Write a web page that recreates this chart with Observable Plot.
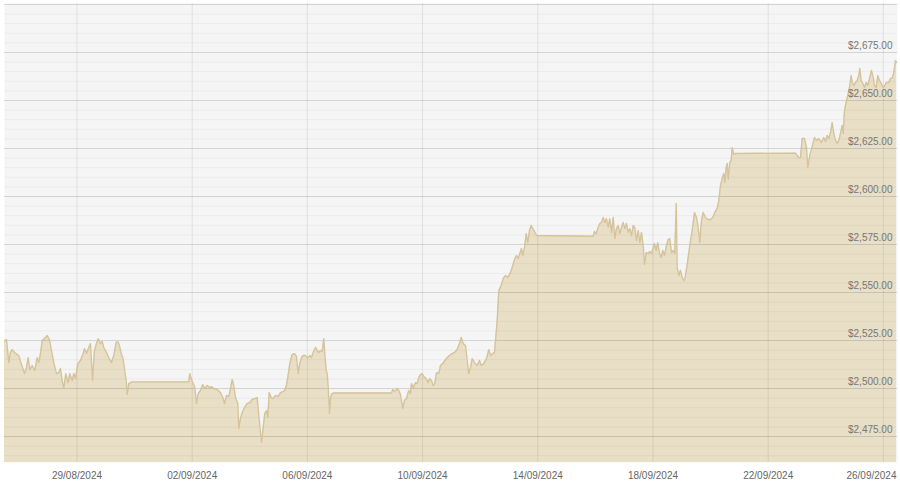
<!DOCTYPE html>
<html>
<head>
<meta charset="utf-8">
<script src="https://cdn.jsdelivr.net/npm/d3@7"></script>
<script src="https://cdn.jsdelivr.net/npm/@observablehq/plot@0.6"></script>
<style>
  html, body { margin: 0; padding: 0; background: #ffffff; }
  #chart svg { display: block; }
</style>
</head>
<body>
<div id="chart"></div>
<script>
// Gold price (USD), timestamps (UTC, 2024)
const times = [
  "08-26T11:36","08-26T13:15","08-26T15:10","08-26T16:35","08-26T18:00","08-26T19:55","08-26T23:30",
  "08-27T01:30","08-27T04:15","08-27T05:55","08-27T07:20","08-27T08:40","08-27T10:40","08-27T12:50","08-27T14:50","08-27T16:10","08-27T17:35","08-27T19:00","08-27T20:55","08-27T23:10",
  "08-28T01:05","08-28T02:45","08-28T04:40","08-28T06:55","08-28T08:50","08-28T10:15","08-28T11:40","08-28T13:00","08-28T14:40","08-28T16:40","08-28T18:00","08-28T20:00","08-28T21:20","08-28T22:45",
  "08-29T00:40","08-29T02:55","08-29T05:10","08-29T06:15","08-29T07:55","08-29T09:50","08-29T11:15","08-29T12:55","08-29T14:35","08-29T16:15","08-29T17:40","08-29T19:35","08-29T21:00","08-29T22:20",
  "08-30T00:35","08-30T02:30","08-30T04:45","08-30T06:40","08-30T08:40","08-30T10:00","08-30T11:25","08-30T12:50","08-30T14:10","08-30T15:50","08-30T17:00","08-30T17:50","08-30T19:10","08-30T22:00",
  "09-01T21:10","09-01T22:00","09-01T23:10",
  "09-02T00:30","09-02T02:10","09-02T03:35","09-02T05:00","09-02T06:55","09-02T08:50","09-02T10:30","09-02T12:30","09-02T14:25","09-02T16:05","09-02T18:00","09-02T20:50","09-02T23:35",
  "09-03T01:50","09-03T02:55","09-03T04:35","09-03T06:30","09-03T07:55","09-03T09:20","09-03T10:40","09-03T12:05","09-03T14:00","09-03T14:50","09-03T16:15","09-03T17:40","09-03T19:35","09-03T21:50",
  "09-04T00:00","09-04T02:00","09-04T04:10","09-04T06:10","09-04T07:30","09-04T08:55","09-04T09:45","09-04T11:10","09-04T12:30","09-04T13:55","09-04T15:00","09-04T16:10","09-04T17:50","09-04T19:30","09-04T21:25","09-04T23:40",
  "09-05T01:35","09-05T03:40","09-05T04:55","09-05T06:35","09-05T07:40","09-05T09:20","09-05T11:20","09-05T13:15","09-05T14:55","09-05T16:20","09-05T17:40","09-05T19:05","09-05T20:30","09-05T22:25",
  "09-06T00:20","09-06T02:00","09-06T03:25","09-06T04:50","09-06T06:45","09-06T08:10","09-06T09:30","09-06T10:55","09-06T12:20","09-06T13:40","09-06T14:30","09-06T15:40","09-06T16:30","09-06T17:20","09-06T18:25","09-06T19:15","09-06T20:40","09-06T22:00",
  "09-08T22:05","09-08T23:10",
  "09-09T00:50","09-09T02:50","09-09T04:10","09-09T05:35","09-09T07:30","09-09T08:55","09-09T10:35","09-09T12:30","09-09T13:55","09-09T14:45","09-09T16:10","09-09T18:05","09-09T19:30","09-09T20:50","09-09T22:15","09-09T23:40",
  "09-10T01:00","09-10T03:00","09-10T04:40","09-10T06:00","09-10T07:25","09-10T08:50","09-10T10:10","09-10T11:35","09-10T13:30","09-10T14:55","09-10T16:50","09-10T18:30","09-10T20:30","09-10T22:25",
  "09-11T00:40","09-11T02:35","09-11T04:50","09-11T06:45","09-11T08:10","09-11T09:50","09-11T11:45","09-11T13:10","09-11T14:30","09-11T15:55","09-11T17:20","09-11T19:15","09-11T21:30","09-11T23:25",
  "09-12T00:50","09-12T03:00","09-12T05:15","09-12T07:10","09-12T08:35","09-12T10:30","09-12T11:55","09-12T12:45","09-12T14:10","09-12T15:30","09-12T17:30","09-12T19:10","09-12T21:05","09-12T23:00",
  "09-13T01:15","09-13T03:10","09-13T04:50","09-13T06:15","09-13T07:40","09-13T09:00","09-13T10:25","09-13T11:30","09-13T12:55","09-13T14:20","09-13T15:40","09-13T17:05","09-13T18:30","09-13T19:50","09-13T21:15","09-13T22:55",
  "09-15T22:10","09-15T23:15",
  "09-16T00:40","09-16T02:00","09-16T03:40","09-16T05:05","09-16T06:30","09-16T07:50","09-16T09:15","09-16T10:40","09-16T12:00","09-16T13:25","09-16T14:50","09-16T16:10","09-16T17:35","09-16T19:00","09-16T20:20","09-16T21:45","09-16T23:10",
  "09-17T00:30","09-17T01:55","09-17T03:20","09-17T04:40","09-17T06:05","09-17T07:30","09-17T08:50","09-17T10:15","09-17T11:40","09-17T13:00","09-17T14:25","09-17T15:50","09-17T16:55","09-17T18:20","09-17T20:00","09-17T21:20","09-17T22:45",
  "09-18T00:10","09-18T01:15","09-18T02:40","09-18T04:00","09-18T05:25","09-18T06:50","09-18T08:10","09-18T09:35","09-18T11:15","09-18T12:40","09-18T14:00","09-18T15:25","09-18T16:50","09-18T18:10","09-18T19:20","09-18T20:10","09-18T21:30","09-18T22:55",
  "09-19T00:20","09-19T01:40","09-19T02:40","09-19T04:30","09-19T06:40","09-19T08:40","09-19T10:35","09-19T12:15","09-19T13:40","09-19T15:00","09-19T16:25","09-19T17:50","09-19T19:45","09-19T21:40","09-19T23:55",
  "09-20T01:50","09-20T03:30","09-20T05:30","09-20T06:50","09-20T08:15","09-20T09:40","09-20T11:00","09-20T11:50","09-20T13:00","09-20T13:50","09-20T14:40","09-20T16:00","09-20T17:10","09-20T18:00","09-20T19:20","09-20T20:45","09-20T22:10",
  "09-22T22:45",
  "09-23T00:10","09-23T01:30","09-23T02:55","09-23T04:20","09-23T06:15","09-23T07:55","09-23T09:00","09-23T10:40","09-23T12:40","09-23T14:35","09-23T16:15","09-23T18:10","09-23T20:10","09-23T22:20","09-23T23:45",
  "09-24T01:10","09-24T02:30","09-24T03:55","09-24T05:20","09-24T06:40","09-24T08:05","09-24T09:30","09-24T10:50","09-24T12:15","09-24T13:40","09-24T14:30","09-24T15:35","09-24T17:15","09-24T18:40","09-24T20:00","09-24T21:10","09-24T22:00","09-24T23:20",
  "09-25T00:45","09-25T02:10","09-25T03:30","09-25T04:20","09-25T05:30","09-25T06:50","09-25T08:15","09-25T09:40","09-25T11:00","09-25T12:40","09-25T14:05","09-25T15:30","09-25T16:35","09-25T18:00","09-25T19:20","09-25T20:45","09-25T22:10","09-25T23:50",
  "09-26T01:10","09-26T02:35","09-26T04:30","09-26T05:55","09-26T07:20","09-26T08:40","09-26T10:05","09-26T10:55"
];
const prices = [
  2525,2525.5,2513.5,2518.8,2520.3,2518.8,2517.2,
  2513,2507.8,2511,2516.1,2509.9,2512,2509.4,2516.1,2513.5,2518.2,2525,2526,2527.6,
  2525.5,2519.8,2513.5,2507.8,2508.3,2510.4,2504.2,2500,2507.8,2503.1,2507.8,2504.2,2507.8,2505.2,
  2513,2514.6,2518.2,2520.8,2518.2,2521.4,2523.4,2504.2,2519.8,2523.4,2526,2523.4,2524.5,2521.4,
  2518.8,2516.1,2513.5,2517.2,2524,2524.5,2522.4,2518.2,2516.1,2509.4,2504.2,2496.9,2502.6,2503.5,
  2503.5,2507.8,2505.2,
  2503.1,2500.5,2492.2,2497.4,2499,2502.1,2500,2501.6,2500.5,2501,2500,2499.5,2497.9,
  2494.8,2492.2,2496.4,2495.8,2500,2504.7,2501.6,2495.3,2492.2,2479.2,2484.4,2487.5,2490.1,2492.2,
  2492.7,2494.3,2494.8,2495.3,2485.9,2477.1,2471.9,2479.7,2487,2488.5,2484.9,2497.9,2495.3,2494.8,2496.4,2495.8,
  2497.9,2498.4,2499,2501.6,2505.7,2513,2517.7,2518.2,2516.7,2507.8,2513,2516.1,2517.2,2517.2,
  2516.1,2517.2,2516.1,2518.8,2521.4,2519.8,2518.8,2519.8,2519.3,2526,2518.2,2509.4,2507.8,2500.5,2487,2495.3,2497.4,2497.7,
  2497.7,2499.5,
  2498.4,2500,2499,2496.9,2489.6,2493.8,2494.8,2499,2497.4,2502.6,2500.5,2503.1,2502.6,2505.7,2507.3,2507.8,
  2506.3,2505.2,2503.1,2505.2,2504.2,2501.6,2502.6,2508.3,2507.8,2512,2513,2514.6,2516.1,2517.2,
  2518.2,2518.8,2520.3,2523.4,2526.6,2523.4,2522.4,2514.6,2507.8,2511,2515.6,2513.5,2512,2514.6,
  2512,2513,2515.6,2520.3,2517.2,2518.2,2518.8,2525,2535.4,2551,2553.6,2557.3,2558.9,2557.8,
  2560.4,2564.1,2567.7,2569.3,2567.7,2570.3,2572.9,2569.3,2573.4,2580.7,2576,2582.3,2584.9,2583.3,2581.8,2579.7,
  2579.3,2581.8,
  2580.7,2583.3,2585.9,2586.5,2589.1,2586.5,2588.5,2583.9,2588.5,2581.3,2589.1,2578.1,2583.3,2584.9,2580.7,2583.9,2586.5,
  2583.3,2585.9,2581.3,2583.3,2579.7,2584.9,2583.9,2577.1,2582.3,2576,2581.3,2574.5,2564.6,2570.8,2570.3,2571.4,2570.3,
  2573.4,2575.5,2571.9,2576,2570.3,2568.2,2571.9,2569.3,2574.5,2577.6,2578.1,2570.8,2571.9,2570.3,2596.4,2563,2558.9,2561.5,
  2557.8,2556.2,2557.3,2564.6,2574.5,2582.3,2591.7,2589.1,2583.9,2576,2587.5,2591.7,2589.1,2588,2588,
  2589.1,2591.7,2593.8,2597.9,2605.7,2609.4,2612,2607.3,2615.1,2617.2,2608.9,2617.7,2618.8,2625.5,2621.9,2622.4,2622.4,
  2622.6,
  2621.4,2620.3,2620.3,2630.2,2630.2,2625.5,2615.1,2621.4,2626,2630.7,2629.2,2630.2,2628.1,2630.7,2628.6,
  2631.8,2630.2,2633.3,2638.5,2632.8,2629.2,2627.6,2629.2,2632.8,2637,2632.8,2644.8,2650,2653.6,2657.8,2663,2659.4,2657.8,
  2659.4,2660.4,2663,2666.7,2660.4,2658.9,2656.8,2659.4,2657.8,2662,2665.6,2662,2657.8,2656.8,2663,2660.4,2658.9,2656.8,
  2657.8,2659.4,2659.4,2661.5,2661.5,2664.6,2670.8,2669.8
];

// Axis tick values / labels
const xTickDates = ["2024-08-29","2024-09-02","2024-09-06","2024-09-10","2024-09-14","2024-09-18","2024-09-22","2024-09-26"];
const yTickValues = [2475, 2500, 2525, 2550, 2575, 2600, 2625, 2650, 2675];
const yGridTop = 2700;

const xDomain = [new Date("2024-08-26T11:36Z"), new Date("2024-09-26T11:45Z")];
const yDomain = [2461.5, 2700.5];

const n = Math.min(times.length, prices.length);
const data = d3.range(n).map(i => ({t: new Date("2024-" + times[i] + ":00Z"), p: prices[i]}));
const xTicks = xTickDates.map(s => new Date(s + "T00:00:00Z"));
const xTicksInner = xTicks.slice(0, -1);
const xTickLast = xTicks.slice(-1);
const minorGrid = d3.range(2465, 2701, 5);
const majorGrid = yTickValues.concat([yGridTop]);

const fmtDate = d3.utcFormat("%d/%m/%Y");
const fmtPrice = d => "$" + d3.format(",.2f")(d);

const chart = Plot.plot({
  width: 900,
  height: 484,
  marginLeft: 4,
  marginRight: 3,
  marginTop: 3,
  marginBottom: 22,
  style: {background: "#ffffff", fontFamily: "'Liberation Sans', Arial, sans-serif"},
  x: {type: "utc", domain: xDomain, axis: null},
  y: {domain: yDomain, axis: null},
  marks: [
    Plot.frame({fill: "#f5f5f5", stroke: null}),
    Plot.areaY(data, {x: "t", y1: yDomain[0], y2: "p", fill: "#e8dfc6", curve: "linear"}),
    Plot.ruleY(minorGrid, {stroke: "#000000", strokeOpacity: 0.045, strokeWidth: 1}),
    Plot.ruleY(majorGrid, {stroke: "#000000", strokeOpacity: 0.1, strokeWidth: 1}),
    Plot.ruleX(xTicks, {stroke: "#000000", strokeOpacity: 0.08, strokeWidth: 1}),
    Plot.lineY(data, {x: "t", y: "p", stroke: "#d5c49b", strokeWidth: 1.4, curve: "linear"}),
    Plot.text(yTickValues, {
      x: xDomain[1], y: d => d, text: fmtPrice,
      textAnchor: "end", dx: -5, dy: -7, fill: "#777777", fontSize: 10
    }),
    Plot.text(xTicksInner, {
      x: d => d, frameAnchor: "bottom", text: fmtDate,
      dy: 16, fill: "#666666", fontSize: 10
    }),
    Plot.text(xTickLast, {
      x: xDomain[1], frameAnchor: "bottom", text: fmtDate,
      textAnchor: "end", dx: -1, dy: 16, fill: "#666666", fontSize: 10
    })
  ]
});
document.getElementById("chart").appendChild(chart);
</script>
</body>
</html>
